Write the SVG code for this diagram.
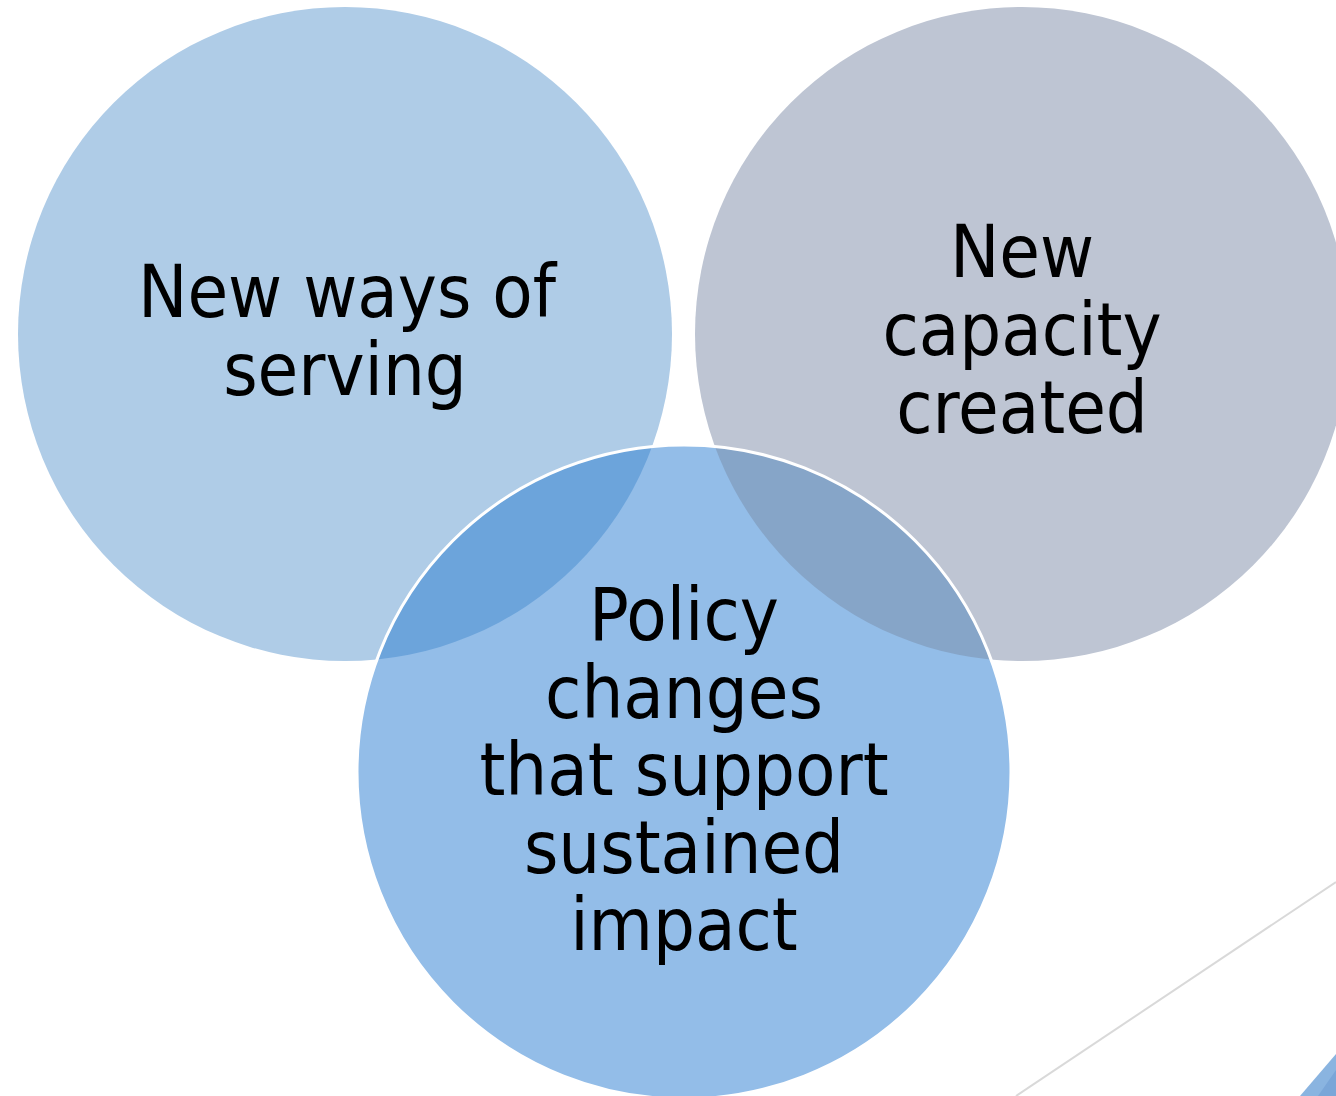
<svg xmlns="http://www.w3.org/2000/svg" width="1336" height="1096" viewBox="0 0 1336 1096">
<style>
.t{font-family:"DejaVu Sans Condensed","DejaVu Sans","Liberation Sans",sans-serif;font-stretch:condensed;font-size:73.5px;fill:#000;text-anchor:middle}
</style>
<defs>
<clipPath id="c3"><circle cx="684" cy="772" r="327"/></clipPath>
</defs>
<rect width="1336" height="1096" fill="#fff"/>
<g id="deco">
<line x1="1016" y1="1096" x2="1336" y2="882" stroke="#d9d9d9" stroke-width="2"/>
<polygon points="1300,1096 1336,1054 1336,1096" fill="#8ab4e0"/>
<polygon points="1318,1096 1336,1070 1336,1096" fill="#7aa6d8"/>
</g>
<g id="node-serving">
<circle cx="345" cy="334" r="327" fill="#afcce7"/>
<text class="t" x="347" y="317">New ways of</text>
<text class="t" x="345" y="395">serving</text>
</g>
<g id="node-capacity">
<circle cx="1022" cy="334" r="327" fill="#bec5d3"/>
<text class="t" x="1022" y="277">New</text>
<text class="t" x="1022" y="355">capacity</text>
<text class="t" x="1022" y="433">created</text>
</g>
<g id="node-policy">
<circle cx="684" cy="772" r="327" fill="#93bde8"/>
<g clip-path="url(#c3)">
<circle cx="345" cy="334" r="327" fill="#6ca4db"/>
<circle cx="1022" cy="334" r="327" fill="#86a5c8"/>
</g>
<circle cx="684" cy="772" r="327" fill="none" stroke="#fff" stroke-width="3"/>
<text class="t" x="684" y="640">Policy</text>
<text class="t" x="684" y="718">changes</text>
<text class="t" x="684" y="795">that support</text>
<text class="t" x="684" y="873">sustained</text>
<text class="t" x="684" y="950">impact</text>
</g>
<g id="connectors"></g>
</svg>
